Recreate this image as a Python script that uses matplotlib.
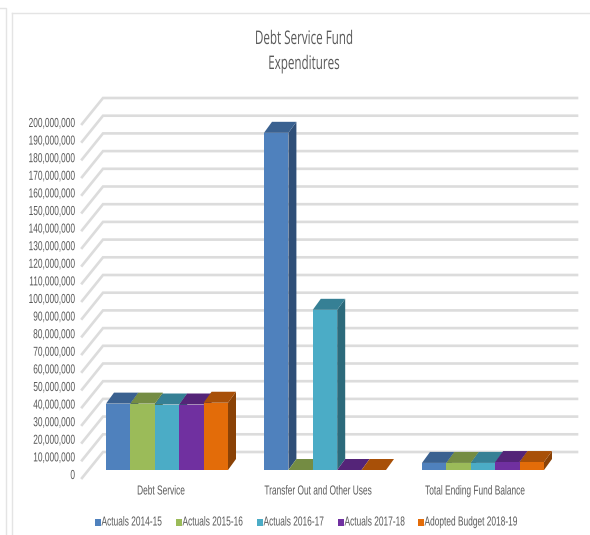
# -*- coding: utf-8 -*-
"""Debt service fund expenditures, fake-3D clustered columns."""

import matplotlib

matplotlib.use("Agg")
import matplotlib.patheffects as pe
import matplotlib.pyplot as plt
from matplotlib.patches import Polygon, Rectangle
from matplotlib.transforms import Affine2D

# ==================== Data ====================
CATEGORIES = ["Debt Service", "Transfer Out and Other Uses", "Total Ending Fund Balance"]
SERIES = ["Actuals 2014-15", "Actuals 2015-16", "Actuals 2016-17", "Actuals 2017-18", "Adopted Budget 2018-19"]
ACTUALS_1415 = [37.5, 190.5, 4.0]
ACTUALS_1516 = [37.5, 0.0, 4.0]
ACTUALS_1617 = [37.0, 90.5, 4.0]
ACTUALS_1718 = [37.0, 0.0, 4.5]
ADOPTED_1819 = [38.0, 0.0, 4.5]
TICK_VALUES = list(range(0, 210, 10))

# ==================== Style ====================
FRONT = ["#4f81bd", "#9bbb59", "#4bacc6", "#7030a0", "#e36c09"]
TOP = ["#3a6190", "#748c43", "#368095", "#542478", "#a85008"]
SIDE = ["#2f4f78", "#5f7337", "#2c6a7b", "#441d62", "#8a4206"]
TEXT = "#595959"
GRID = "#dcdcdc"

W, H = 590, 535
PX_PER_UNIT = 1.77
FLOOR_Y = 478
WALL_DX, WALL_DY = 21, 26
BAR_DX0, BAR_DY0 = 6.5, 8
BAR_DX, BAR_DY = 8, 11
BAR_W = 24.4
GROUP_X = [106, 264, 422]
RIGHT = 577
NARROW = 0.64

plt.rcParams["font.family"] = ["Liberation Sans", "DejaVu Sans"]


class Squeeze(pe.AbstractPathEffect):
    """Squash text horizontally about a fixed pixel x (the source uses a stretched image)."""

    def __init__(self, anchor, k):
        super().__init__()
        self.anchor = anchor
        self.k = k

    def draw_path(self, renderer, gc, tpath, affine, rgbFace=None):
        squeeze = Affine2D().translate(-self.anchor, 0).scale(self.k, 1).translate(self.anchor, 0)
        renderer.draw_path(gc, tpath, affine + squeeze, rgbFace)


fig = plt.figure(figsize=(W / 100, H / 100), dpi=100)
ax = fig.add_axes([0, 0, 1, 1])
ax.set_xlim(0, W)
ax.set_ylim(H, 0)
ax.axis("off")


def narrow_text(x, y, s, ha="center", size=9.4, k=NARROW, **kw):
    t = ax.text(x, y, s, ha=ha, va="center", fontsize=size, color=TEXT, **kw)
    t.set_path_effects([Squeeze(ax.transData.transform((x, 0))[0], k)])
    return t


def val_y(v):
    return FLOOR_Y - v * PX_PER_UNIT


# page / card frame
for xs, ys in [([0, 6, 6], [8, 8, 535]), ([12, 12], [535, 13]), ([12, 590], [13, 13])]:
    ax.plot(xs, ys, color="#e4e4e4", lw=1.0)

# wall grid and the slanted side lines
for v in TICK_VALUES:
    y = val_y(v)
    ax.plot([82, 82 + WALL_DX, RIGHT], [y, y - WALL_DY, y - WALL_DY], color=GRID, lw=1.9, solid_joinstyle="miter")
    narrow_text(75, 476 - v * 1.76, f"{v * 1000000:,}", ha="right")

# bars, left to right in each group so the next bar covers the side face
values = [ACTUALS_1415, ACTUALS_1516, ACTUALS_1617, ACTUALS_1718, ADOPTED_1819]
base_y = FLOOR_Y - BAR_DY0
for g, gx in enumerate(GROUP_X):
    for s in range(5):
        v = values[s][g]
        x0 = gx + s * BAR_W
        x1 = x0 + BAR_W
        top = base_y - v * PX_PER_UNIT
        ax.add_patch(Polygon([(x1, base_y), (x1 + BAR_DX, base_y - BAR_DY), (x1 + BAR_DX, top - BAR_DY), (x1, top)],
                             fc=SIDE[s], ec="none", zorder=3 + s))
        ax.add_patch(Polygon([(x0, top), (x0 + BAR_DX, top - BAR_DY), (x1 + BAR_DX, top - BAR_DY), (x1, top)],
                             fc=TOP[s], ec="none", zorder=3 + s))
        ax.add_patch(Rectangle((x0, top), BAR_W, base_y - top, fc=FRONT[s], ec="none", zorder=3 + s))

# category labels
for label, lx in zip(CATEGORIES, [161, 318, 475]):
    narrow_text(lx, 491.5, label)

# legend
LEGEND_X = [95, 176, 257, 338, 418]
for s, (name, lx) in enumerate(zip(SERIES, LEGEND_X)):
    ax.add_patch(Rectangle((lx, 519), 6, 7, fc=FRONT[s], ec="none"))
    narrow_text(lx + 6.5, 522.5, name, ha="left")

title_font = ["Open Sans", "Liberation Sans", "DejaVu Sans"]
narrow_text(304, 39, "Debt Service Fund", size=13.5, k=0.62, family=title_font)
narrow_text(304, 64, "Expenditures", size=13.5, k=0.62, family=title_font)

fig.savefig("out.png", dpi=100)
plt.close(fig)
